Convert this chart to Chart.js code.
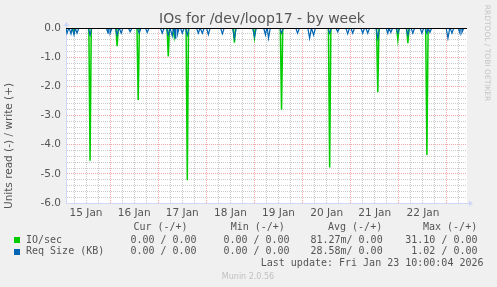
<!DOCTYPE html>
<html><head><meta charset="utf-8">
<script src="https://cdn.jsdelivr.net/npm/chart.js@4/dist/chart.umd.min.js"></script>
<style>html,body{margin:0;padding:0;background:#f0f0f0;}canvas{display:block;}</style>
</head><body>
<canvas id="c" width="497" height="287"></canvas>
<script>
// ---- data (time = hours since 15 Jan 00:00) ----
const chartTitle = 'IOs for /dev/loop17 - by week';
const yAxisTitle = 'Units read (-) / write (+)';
const dayLabels = ['15 Jan','16 Jan','17 Jan','18 Jan','19 Jan','20 Jan','21 Jan','22 Jan'];
const rangeStartHour = 2;
const rangeEndHour = 202;
const ioSpikeHours  = [6, 14, 27.5, 38, 53, 56, 62.5, 86, 96, 109.5, 133.5, 157.5, 167.5, 172.5, 182];
const ioSpikeValues = [-0.15, -4.55, -0.62, -2.47, -0.98, -0.3, -5.22, -0.5, -0.33, -2.8, -4.78, -2.2, -0.4, -0.52, -4.35];
const reqSpikeHours  = [2.5, 4.5, 6, 7.5, 14, 23, 24, 27.5, 29.5, 34, 38.5, 42.5, 50, 53, 55, 56.5, 57.5, 60, 62.5, 68, 70, 73, 80, 86, 96, 101.5, 103, 109.5, 117.5, 123.5, 125.5, 133.5, 137.5, 142.5, 145, 150, 152.5, 157.5, 162.5, 164, 167.5, 172.5, 175, 179.5, 182, 183.5, 192.5, 194.5, 198.5, 199.5];
const reqSpikeValues = [-0.18, -0.2, -0.24, -0.18, -0.24, -0.18, -0.18, -0.24, -0.18, -0.13, -0.18, -0.15, -0.18, -0.24, -0.27, -0.35, -0.24, -0.18, -0.24, -0.18, -0.18, -0.22, -0.2, -0.35, -0.3, -0.24, -0.35, -0.18, -0.18, -0.35, -0.24, -0.18, -0.13, -0.2, -0.18, -0.18, -0.18, -0.35, -0.18, -0.15, -0.18, -0.24, -0.18, -0.18, -0.18, -0.15, -0.35, -0.18, -0.18, -0.15];
const seriesNames = ['IO/sec', 'Req Size (KB)'];
const statHeaders = ['Cur (-/+)', 'Min (-/+)', 'Avg (-/+)', 'Max (-/+)'];
const ioStats  = ['0.00 / 0.00', '0.00 / 0.00', '81.27m/ 0.00', '31.10 / 0.00'];
const reqStats = ['0.00 / 0.00', '0.00 / 0.00', '28.58m/ 0.00', '1.02 / 0.00'];
const lastUpdateText = 'Last update: Fri Jan 23 10:00:04 2026';
const footerText = 'Munin 2.0.56';
const sideText = 'RRDTOOL / TOBI OETIKER';

// ---- styles ----
const GREEN = '#00cc00', BLUE = '#0066b3';
const AXIS = '#cfd6f8', FONT = '#555555';
const MAJOR = 'rgba(232,80,80,0.5)', MINOR = 'rgba(143,143,143,0.45)';
const SANS = 'DejaVu Sans', MONO = 'DejaVu Sans Mono';

function buildSeries(hours, values, half) {
  const pts = [{x: rangeStartHour, y: 0}];
  hours.forEach((h, i) => {
    pts.push({x: h - half, y: 0}, {x: h, y: values[i]}, {x: h + half, y: 0});
  });
  pts.push({x: rangeEndHour, y: 0});
  pts.sort((p, q) => p.x - q.x);
  return pts;
}

const isInt = v => Math.abs(v - Math.round(v)) < 1e-6;

const decor = {
  id: 'decor',
  beforeDraw(chart) {
    const ctx = chart.ctx, a = chart.chartArea;
    ctx.save();
    ctx.fillStyle = '#f0f0f0';
    ctx.fillRect(0, 0, chart.width, chart.height);
    ctx.fillStyle = '#ffffff';
    ctx.fillRect(a.left, a.top, a.right - a.left, a.bottom - a.top);
    ctx.restore();
  },
  afterDatasetsDraw(chart) {
    const ctx = chart.ctx, a = chart.chartArea;
    const y0 = Math.floor(chart.scales.y.getPixelForValue(0)) + 0.5;
    ctx.save();
    ctx.strokeStyle = '#000000';
    ctx.lineWidth = 1;
    ctx.beginPath();
    ctx.moveTo(a.left, y0); ctx.lineTo(a.right, y0);
    ctx.stroke();
    // axis arrows
    const yb = Math.floor(a.bottom) + 0.5;
    ctx.strokeStyle = AXIS; ctx.fillStyle = AXIS;
    ctx.beginPath(); ctx.moveTo(a.right, yb); ctx.lineTo(a.right + 3, yb); ctx.stroke();
    ctx.beginPath(); ctx.moveTo(a.right + 2, yb - 3); ctx.lineTo(a.right + 6, yb); ctx.lineTo(a.right + 2, yb + 3); ctx.closePath(); ctx.fill();
    const xl = Math.floor(a.left) + 0.5;
    ctx.beginPath(); ctx.moveTo(xl, a.top); ctx.lineTo(xl, a.top - 3); ctx.stroke();
    ctx.beginPath(); ctx.moveTo(xl - 3, a.top - 2); ctx.lineTo(xl, a.top - 6); ctx.lineTo(xl + 3, a.top - 2); ctx.closePath(); ctx.fill();
    ctx.restore();
  },
  afterDraw(chart) {
    const ctx = chart.ctx;
    ctx.save();
    // title
    ctx.fillStyle = FONT;
    ctx.font = '14px "' + SANS + '"';
    ctx.textAlign = 'center'; ctx.textBaseline = 'middle';
    ctx.fillText(chartTitle, 262, 19);
    // y axis title
    ctx.save();
    ctx.translate(9, 146);
    ctx.rotate(-Math.PI / 2);
    ctx.font = '10.5px "' + SANS + '"';
    ctx.fillText(yAxisTitle, 0, 0);
    ctx.restore();
    // side text
    ctx.save();
    ctx.translate(487, 53);
    ctx.rotate(Math.PI / 2);
    ctx.fillStyle = '#c4c4c4';
    ctx.font = '7.5px "' + SANS + '"';
    ctx.fillText(sideText, 0, 0);
    ctx.restore();
    // legend table
    ctx.font = '10px "' + MONO + '"';
    ctx.fillStyle = FONT;
    ctx.textAlign = 'left';
    const hx = [133.4, 230.7, 328, 423];
    statHeaders.forEach((t, i) => ctx.fillText(t, hx[i], 227.7));
    const rows = [[seriesNames[0], ioStats, GREEN, 240], [seriesNames[1], reqStats, BLUE, 251.7]];
    const cx = [130.4, 223.4, 310.4];
    rows.forEach(([name, stats, col, y]) => {
      ctx.fillStyle = col;
      ctx.fillRect(14, Math.round(y) - 3, 6, 6);
      ctx.fillStyle = FONT;
      ctx.textAlign = 'left';
      ctx.fillText(name, 26, y);
      for (let i = 0; i < 3; i++) ctx.fillText(stats[i], cx[i], y);
      ctx.textAlign = 'right';
      ctx.fillText(stats[3], 477.5, y);
    });
    ctx.textAlign = 'right';
    ctx.fillText(lastUpdateText, 483.5, 263.3);
    ctx.textAlign = 'center';
    ctx.fillStyle = '#c0c0c0';
    ctx.font = '8px "' + SANS + '"';
    ctx.fillText(footerText, 248, 276.5);
    ctx.restore();
  }
};

new Chart(document.getElementById('c'), {
  type: 'line',
  data: {
    datasets: [
      {label: seriesNames[0], data: buildSeries(ioSpikeHours, ioSpikeValues, 0.6), borderColor: GREEN, borderWidth: 1.5, pointRadius: 0, tension: 0, fill: false, order: 2},
      {label: seriesNames[1], data: buildSeries(reqSpikeHours, reqSpikeValues, 0.9), borderColor: BLUE, borderWidth: 1.2, pointRadius: 0, tension: 0, fill: false, order: 1}
    ]
  },
  options: {
    responsive: false,
    animation: false,
    devicePixelRatio: 1,
    layout: {padding: {left: 0, top: 28, right: 30, bottom: 0}},
    plugins: {legend: {display: false}, title: {display: false}, tooltip: {enabled: false}},
    scales: {
      x: {
        type: 'linear', min: rangeStartHour, max: rangeEndHour,
        afterBuildTicks: s => { const t = []; for (let h = 6; h < rangeEndHour; h += 6) t.push({value: h}); s.ticks = t; },
        afterFit: s => { s.height = 84; s.paddingLeft = 0; s.paddingRight = 0; s.paddingTop = 0; s.paddingBottom = 0; },
        ticks: {autoSkip: false, maxRotation: 0, minRotation: 0, padding: 4, color: FONT,
          font: {family: SANS, size: 10.5},
          callback: v => (v % 24 === 12) ? dayLabels[(v - 12) / 24] : ''},
        grid: {drawTicks: false, lineWidth: 1, color: c => (c.tick && c.tick.value % 24 === 0) ? MAJOR : MINOR},
        border: {display: true, color: AXIS, width: 1, dash: [1, 1]}
      },
      y: {
        type: 'linear', min: -6, max: 0,
        ticks: {stepSize: 0.2, autoSkip: false, padding: 5, color: FONT, font: {family: SANS, size: 10.5},
          callback: v => isInt(v) ? (Math.round(v) === 0 ? '0.0' : Math.round(v).toFixed(1)) : ''},
        afterFit: s => { s.width = 66; s.paddingTop = 0; s.paddingBottom = 0; s.paddingLeft = 0; s.paddingRight = 0; },
        grid: {drawTicks: false, lineWidth: 1, color: c => (c.tick && isInt(c.tick.value) && Math.round(c.tick.value) !== 0 && Math.round(c.tick.value) !== -6) ? MAJOR : MINOR},
        border: {display: true, color: AXIS, width: 1, dash: [1, 1]}
      }
    }
  },
  plugins: [decor]
});
</script>
</body></html>
